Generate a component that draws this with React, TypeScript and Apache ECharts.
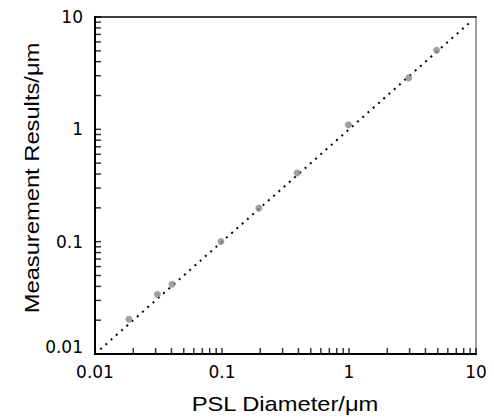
import React, { useEffect, useRef } from "react";
import * as echarts from "echarts";

const pslDiameter = [0.0185, 0.031, 0.0404, 0.098, 0.195, 0.39, 0.99, 2.95, 4.9];
const measured = [0.0204, 0.0338, 0.0418, 0.1002, 0.199, 0.408, 1.099, 2.87, 5.05];
const refLine = [0.011, 9.4];
const tickValues = [
  0.01, 0.02, 0.03, 0.04, 0.05, 0.06, 0.07, 0.08, 0.09,
  0.1, 0.2, 0.3, 0.4, 0.5, 0.6, 0.7, 0.8, 0.9,
  1, 2, 3, 4, 5, 6, 7, 8, 9, 10,
];
const xTitle = "PSL Diameter/μm";
const yTitle = "Measurement Results/μm";

const FONT = "'Liberation Sans', Arial, sans-serif";
const TICKFONT = "'DejaVu Sans', sans-serif";

export default function App() {
  const ref = useRef<HTMLDivElement>(null);
  useEffect(() => {
    if (!ref.current) return;
    const chart = echarts.init(ref.current, null, { renderer: "svg" });
    const fmt = (v: number) => String(parseFloat(Number(v).toPrecision(6)));
    const fmtY = (v: number) => {
      const s = fmt(v);
      return Math.abs(v - 0.01) < 1e-9 ? `{low|${s}}` : s;
    };
    const option: any = {
      animation: false,
      backgroundColor: "#ffffff",
      grid: { left: 95, right: 18, top: 17, bottom: 66, containLabel: false },
      xAxis: [
        {
          type: "log",
          logBase: 10,
          min: 0.01,
          max: 10,
          axisLine: { show: true, onZero: false, lineStyle: { color: "#000", width: 2 } },
          axisTick: { show: false },
          axisLabel: { formatter: fmt, color: "#000", fontSize: 17, fontFamily: TICKFONT, margin: 9 },
          splitLine: { show: false },
        },
        {
          type: "log",
          logBase: 10,
          min: 0.01,
          max: 10,
          position: "top",
          axisLine: { show: true, onZero: false, lineStyle: { color: "#000", width: 1.5 } },
          axisTick: { show: false },
          axisLabel: { show: false },
          splitLine: { show: false },
        },
      ],
      yAxis: [
        {
          type: "log",
          logBase: 10,
          min: 0.01,
          max: 10,
          axisLine: { show: true, onZero: false, lineStyle: { color: "#000", width: 2 } },
          axisTick: { show: false },
          axisLabel: {
            formatter: fmtY,
            color: "#000",
            fontSize: 17,
            fontFamily: TICKFONT,
            margin: 12,
            rich: {
              low: { fontSize: 17, fontFamily: TICKFONT, color: "#000", padding: [0, 0, 14, 0] },
            },
          },
          splitLine: { show: false },
        },
        {
          type: "log",
          logBase: 10,
          min: 0.01,
          max: 10,
          position: "right",
          axisLine: { show: true, onZero: false, lineStyle: { color: "#808080", width: 1.5 } },
          axisTick: { show: false },
          axisLabel: { show: false },
          splitLine: { show: false },
        },
      ],
      graphic: [
        {
          type: "text",
          x: 285,
          y: 404,
          scaleX: 1.13,
          style: {
            text: xTitle,
            fill: "#000",
            font: `21px ${FONT}`,
            textAlign: "center",
            textVerticalAlign: "middle",
          },
        },
        {
          type: "text",
          x: 32,
          y: 178,
          rotation: Math.PI / 2,
          scaleX: 1.13,
          style: {
            text: yTitle,
            fill: "#000",
            font: `21px ${FONT}`,
            textAlign: "center",
            textVerticalAlign: "middle",
          },
        },
      ],
      series: [
        {
          type: "scatter",
          xAxisIndex: 0,
          yAxisIndex: 0,
          clip: false,
          data: tickValues.map((v) => [v, 0.01]),
          symbol: "rect",
          symbolSize: [1.5, 7],
          symbolOffset: [0, -2.5],
          itemStyle: { color: "#000" },
          z: 5,
        },
        {
          type: "scatter",
          xAxisIndex: 0,
          yAxisIndex: 0,
          clip: false,
          data: tickValues.map((v) => [0.01, v]),
          symbol: "rect",
          symbolSize: [7, 1.5],
          symbolOffset: [2.5, 0],
          itemStyle: { color: "#000" },
          z: 5,
        },
        {
          type: "line",
          xAxisIndex: 0,
          yAxisIndex: 0,
          data: refLine.map((v) => [v, v]),
          symbol: "none",
          lineStyle: { color: "#000", width: 2, type: [2, 5] },
          silent: true,
          z: 3,
        },
        {
          type: "scatter",
          xAxisIndex: 0,
          yAxisIndex: 0,
          data: pslDiameter.map((v, i) => [v, measured[i]]),
          symbol: "circle",
          symbolSize: 7,
          itemStyle: { color: "#8a8a8a" },
          z: 4,
        },
      ],
    };
    chart.setOption(option);
    return () => chart.dispose();
  }, []);
  return (
    <div
      ref={ref}
      style={{ position: "fixed", left: 0, top: 0, width: 494, height: 420, background: "#fff" }}
    />
  );
}
